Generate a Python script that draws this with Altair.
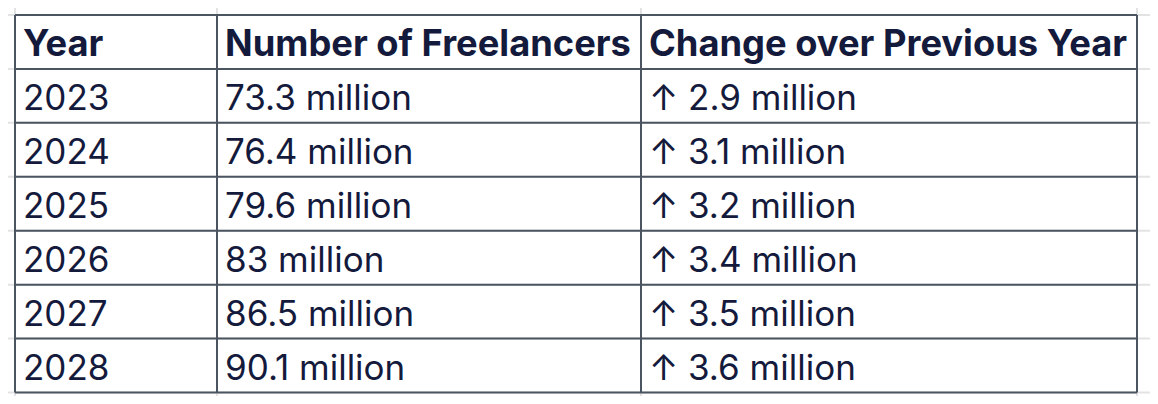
import altair as alt
import pandas as pd

# ---- data ----
headers = ["Year", "Number of Freelancers", "Change over Previous Year"]
years = ["2023", "2024", "2025", "2026", "2027", "2028"]
freelancers = ["73.3 million", "76.4 million", "79.6 million", "83 million", "86.5 million", "90.1 million"]
changes = ["↑ 2.9 million", "↑ 3.1 million", "↑ 3.2 million", "↑ 3.4 million", "↑ 3.5 million", "↑ 3.6 million"]

# ---- layout (chart pixel space) ----
W, H = 1142, 388
col_edges = [7, 209, 633, 1129]
row_top, row_h = 7, 53.93
n_rows = 1 + len(years)
row_edges = [row_top + row_h * k for k in range(n_rows + 1)]
text_dx = 8
baseline_off = 41

cells = []
for c, h in enumerate(headers):
    cells.append({"x": col_edges[c] + text_dx, "y": row_edges[0] + baseline_off, "t": h, "bold": "b"})
for r, vals in enumerate(zip(years, freelancers, changes)):
    for c, v in enumerate(vals):
        cells.append({"x": col_edges[c] + text_dx, "y": row_edges[r + 1] + baseline_off, "t": v, "bold": "n"})
cells = pd.DataFrame(cells)

xs = alt.Scale(domain=[0, W], range=[0, W])
ys = alt.Scale(domain=[0, H], range=[0, H])

vgrid = pd.DataFrame({"x": col_edges, "y": 0, "y2": H})
hgrid = pd.DataFrame({"y": row_edges, "x": 0, "x2": W})
vb = pd.DataFrame({"x": col_edges, "y": row_edges[0], "y2": row_edges[-1]})
hb = pd.DataFrame({"y": row_edges, "x": col_edges[0], "x2": col_edges[-1]})

grid_color = "#e3e3e3"
border_color = "#4a5561"

g1 = alt.Chart(vgrid).mark_rule(color=grid_color, strokeWidth=2).encode(
    x=alt.X("x:Q", scale=xs, axis=None), y=alt.Y("y:Q", scale=ys, axis=None), y2="y2")
g2 = alt.Chart(hgrid).mark_rule(color=grid_color, strokeWidth=2).encode(
    y=alt.Y("y:Q", scale=ys, axis=None), x=alt.X("x:Q", scale=xs, axis=None), x2="x2")
b1 = alt.Chart(vb).mark_rule(color=border_color, strokeWidth=2).encode(
    x=alt.X("x:Q", scale=xs, axis=None), y=alt.Y("y:Q", scale=ys, axis=None), y2="y2")
b2 = alt.Chart(hb).mark_rule(color=border_color, strokeWidth=2).encode(
    y=alt.Y("y:Q", scale=ys, axis=None), x=alt.X("x:Q", scale=xs, axis=None), x2="x2")

txt_b = alt.Chart(cells[cells.bold == "b"]).mark_text(
    font="Inter", fontSize=36.3, fontWeight="bold", color="#141a3c", align="left", baseline="alphabetic"
).encode(x=alt.X("x:Q", scale=xs, axis=None), y=alt.Y("y:Q", scale=ys, axis=None), text="t:N")
txt_n = alt.Chart(cells[cells.bold == "n"]).mark_text(
    font="Inter", fontSize=35, fontWeight="normal", color="#141a3c", align="left", baseline="alphabetic"
).encode(x=alt.X("x:Q", scale=xs, axis=None), y=alt.Y("y:Q", scale=ys, axis=None), text="t:N")

chart = alt.layer(g1, g2, b1, b2, txt_b, txt_n).properties(
    width=W, height=H, padding=0, autosize=alt.AutoSizeParams(type="none"), background="white"
).configure_view(stroke=None)

chart.save("out.html", embed_options={"renderer": "svg", "actions": False})
